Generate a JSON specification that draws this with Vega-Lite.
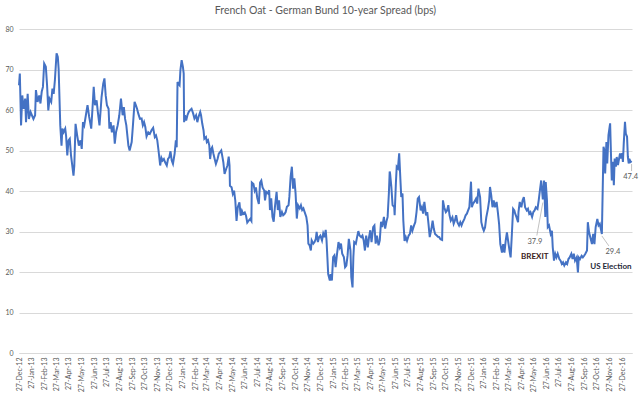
{
"$schema": "https://vega.github.io/schema/vega-lite/v6.json",
"width": 613,
"height": 324,
"autosize": {"type": "none"},
"padding": {"left": 19, "top": 29, "right": 8, "bottom": 40},
"background": "white",
"config": {"view": {"stroke": null}, "font": "Lato"},
"title": {"text": "French Oat - German Bund 10-year Spread (bps)", "fontSize": 10.5, "font": "Lato", "fontWeight": "normal", "color": "#595959", "anchor": "middle", "offset": 9},
"datasets": {
"spread": [
{"d":"2012-12-27","v":66.1},{"d":"2012-12-29","v":69},{"d":"2013-01-01","v":56.2},{"d":"2013-01-04","v":63.6},{"d":"2013-01-07","v":60.3},{"d":"2013-01-11","v":62.8},{"d":"2013-01-13","v":57},{"d":"2013-01-17","v":64},{"d":"2013-01-20","v":57.8},{"d":"2013-01-24","v":59.5},{"d":"2013-01-31","v":57.8},{"d":"2013-02-04","v":58.7},{"d":"2013-02-06","v":64.9},{"d":"2013-02-10","v":62},{"d":"2013-02-14","v":63.6},{"d":"2013-02-17","v":61.6},{"d":"2013-02-20","v":64.5},{"d":"2013-02-23","v":65.7},{"d":"2013-02-26","v":71.5},{"d":"2013-03-02","v":70.7},{"d":"2013-03-05","v":66.1},{"d":"2013-03-08","v":59.9},{"d":"2013-03-11","v":62.8},{"d":"2013-03-15","v":62},{"d":"2013-03-18","v":65.3},{"d":"2013-03-21","v":64},{"d":"2013-03-24","v":67.4},{"d":"2013-03-28","v":74},{"d":"2013-03-31","v":73.1},{"d":"2013-04-02","v":70.2},{"d":"2013-04-06","v":56.2},{"d":"2013-04-09","v":51.2},{"d":"2013-04-11","v":55.4},{"d":"2013-04-14","v":54.5},{"d":"2013-04-18","v":55.4},{"d":"2013-04-20","v":53.7},{"d":"2013-04-23","v":48.8},{"d":"2013-04-26","v":52.5},{"d":"2013-04-29","v":52.9},{"d":"2013-05-02","v":48.8},{"d":"2013-05-05","v":46.3},{"d":"2013-05-08","v":43.8},{"d":"2013-05-10","v":46.3},{"d":"2013-05-13","v":56.6},{"d":"2013-05-17","v":53.7},{"d":"2013-05-21","v":51.2},{"d":"2013-05-25","v":52.5},{"d":"2013-05-28","v":50.4},{"d":"2013-05-31","v":57},{"d":"2013-06-03","v":56.2},{"d":"2013-06-07","v":58.7},{"d":"2013-06-11","v":61.2},{"d":"2013-06-15","v":58.3},{"d":"2013-06-20","v":55.4},{"d":"2013-06-23","v":60.3},{"d":"2013-06-26","v":65.7},{"d":"2013-06-29","v":61.2},{"d":"2013-07-03","v":62.4},{"d":"2013-07-06","v":59.5},{"d":"2013-07-10","v":56.2},{"d":"2013-07-13","v":60.3},{"d":"2013-07-15","v":63.2},{"d":"2013-07-19","v":66.5},{"d":"2013-07-22","v":67.8},{"d":"2013-07-25","v":63.6},{"d":"2013-07-28","v":61.2},{"d":"2013-08-01","v":60.3},{"d":"2013-08-03","v":55.4},{"d":"2013-08-06","v":57},{"d":"2013-08-09","v":54.5},{"d":"2013-08-13","v":56.2},{"d":"2013-08-16","v":51.7},{"d":"2013-08-19","v":54.5},{"d":"2013-08-23","v":56.2},{"d":"2013-08-27","v":58.7},{"d":"2013-08-31","v":62.8},{"d":"2013-09-04","v":58.7},{"d":"2013-09-07","v":60.7},{"d":"2013-09-10","v":57.8},{"d":"2013-09-13","v":56.2},{"d":"2013-09-18","v":51.2},{"d":"2013-09-21","v":50},{"d":"2013-09-26","v":52.1},{"d":"2013-09-29","v":56.2},{"d":"2013-10-03","v":62},{"d":"2013-10-06","v":61.2},{"d":"2013-10-09","v":60.3},{"d":"2013-10-12","v":59.1},{"d":"2013-10-16","v":57.8},
{"d":"2013-10-20","v":57.9},{"d":"2013-10-23","v":56.2},{"d":"2013-10-26","v":57},{"d":"2013-10-29","v":55.8},{"d":"2013-11-01","v":53.5},{"d":"2013-11-05","v":54.5},{"d":"2013-11-09","v":54.1},{"d":"2013-11-13","v":55},{"d":"2013-11-17","v":55.6},{"d":"2013-11-21","v":53.3},{"d":"2013-11-24","v":53.7},{"d":"2013-11-27","v":52.5},{"d":"2013-11-30","v":50},{"d":"2013-12-04","v":46.3},{"d":"2013-12-07","v":48.2},{"d":"2013-12-10","v":47.5},{"d":"2013-12-13","v":47.9},{"d":"2013-12-16","v":47.1},{"d":"2013-12-20","v":46.3},{"d":"2013-12-23","v":47.9},{"d":"2013-12-26","v":48.3},{"d":"2013-12-29","v":49.8},{"d":"2014-01-01","v":47.5},{"d":"2014-01-04","v":46.7},{"d":"2014-01-08","v":49.2},{"d":"2014-01-11","v":52.5},{"d":"2014-01-13","v":50.8},{"d":"2014-01-15","v":66.9},{"d":"2014-01-17","v":66.5},{"d":"2014-01-20","v":66.1},{"d":"2014-01-22","v":69.8},{"d":"2014-01-25","v":72.3},{"d":"2014-01-28","v":70.7},{"d":"2014-01-30","v":69},{"d":"2014-01-31","v":57},{"d":"2014-02-02","v":58.7},{"d":"2014-02-05","v":57.4},{"d":"2014-02-08","v":58.7},{"d":"2014-02-11","v":59.5},{"d":"2014-02-14","v":59.9},{"d":"2014-02-18","v":60.3},{"d":"2014-02-22","v":59.1},{"d":"2014-02-25","v":57.9},{"d":"2014-03-01","v":58.7},{"d":"2014-03-04","v":57},{"d":"2014-03-07","v":58.3},{"d":"2014-03-11","v":59.5},{"d":"2014-03-13","v":58.7},{"d":"2014-03-16","v":56.6},{"d":"2014-03-19","v":55},{"d":"2014-03-21","v":52.9},{"d":"2014-03-25","v":53.3},{"d":"2014-03-27","v":52.1},{"d":"2014-03-30","v":52.5},{"d":"2014-04-02","v":51.2},{"d":"2014-04-04","v":47.9},{"d":"2014-04-07","v":50.4},{"d":"2014-04-09","v":50.8},{"d":"2014-04-12","v":49.2},{"d":"2014-04-15","v":47.9},{"d":"2014-04-18","v":46.7},{"d":"2014-04-22","v":47.9},{"d":"2014-04-25","v":49.2},{"d":"2014-04-28","v":49.6},{"d":"2014-05-01","v":50},{"d":"2014-05-04","v":48.3},{"d":"2014-05-06","v":47.1},{"d":"2014-05-09","v":44.2},{"d":"2014-05-13","v":45.5},{"d":"2014-05-16","v":46.3},{"d":"2014-05-19","v":48.5},{"d":"2014-05-21","v":46.3},{"d":"2014-05-22","v":41.3},{"d":"2014-05-26","v":40.9},{"d":"2014-05-29","v":39.3},{"d":"2014-06-01","v":40.1},{"d":"2014-06-04","v":37.6},{"d":"2014-06-07","v":32.6},{"d":"2014-06-10","v":36},{"d":"2014-06-14","v":37.2},{"d":"2014-06-17","v":33.9},{"d":"2014-06-20","v":35.1},{"d":"2014-06-23","v":34.3},{"d":"2014-06-27","v":34.7},{"d":"2014-06-30","v":33.9},{"d":"2014-07-03","v":32.2},{"d":"2014-07-06","v":32.6},{"d":"2014-07-10","v":33.1},{"d":"2014-07-13","v":32.6},{"d":"2014-07-14","v":42.1},{"d":"2014-07-18","v":41.7},{"d":"2014-07-21","v":40.1},{"d":"2014-07-24","v":40.9},{"d":"2014-07-27","v":38.4},{"d":"2014-07-31","v":36.8},{"d":"2014-08-03","v":42.1},{"d":"2014-08-06","v":42.6},{"d":"2014-08-09","v":40.9},{"d":"2014-08-13","v":40.1},
{"d":"2014-08-15","v":37.7},{"d":"2014-08-18","v":39.8},{"d":"2014-08-22","v":39.4},{"d":"2014-08-25","v":40.2},{"d":"2014-08-27","v":35.3},{"d":"2014-08-30","v":38.2},{"d":"2014-09-02","v":33.6},{"d":"2014-09-05","v":32.4},{"d":"2014-09-08","v":36.1},{"d":"2014-09-12","v":39.8},{"d":"2014-09-15","v":35.3},{"d":"2014-09-18","v":37.7},{"d":"2014-09-21","v":33.6},{"d":"2014-09-25","v":34.8},{"d":"2014-09-28","v":34},{"d":"2014-10-01","v":34.3},{"d":"2014-10-04","v":34.8},{"d":"2014-10-07","v":36.1},{"d":"2014-10-11","v":36.5},{"d":"2014-10-13","v":38.6},{"d":"2014-10-16","v":43.5},{"d":"2014-10-19","v":46},{"d":"2014-10-22","v":40.6},{"d":"2014-10-25","v":43.1},{"d":"2014-10-28","v":39.4},{"d":"2014-10-31","v":33.2},{"d":"2014-11-03","v":36.5},{"d":"2014-11-07","v":35.7},{"d":"2014-11-10","v":36.5},{"d":"2014-11-13","v":35.3},{"d":"2014-11-16","v":35.7},{"d":"2014-11-19","v":34.8},{"d":"2014-11-23","v":33.6},{"d":"2014-11-26","v":31.5},{"d":"2014-11-28","v":27},{"d":"2014-12-01","v":26.6},{"d":"2014-12-04","v":25.3},{"d":"2014-12-06","v":27.8},{"d":"2014-12-10","v":27},{"d":"2014-12-13","v":27.4},{"d":"2014-12-16","v":28.2},{"d":"2014-12-18","v":29.9},{"d":"2014-12-21","v":27.4},{"d":"2014-12-24","v":28.6},{"d":"2014-12-27","v":29},{"d":"2014-12-31","v":27.8},{"d":"2015-01-03","v":29.5},{"d":"2015-01-06","v":28.6},{"d":"2015-01-09","v":30.4},{"d":"2015-01-11","v":27.8},{"d":"2015-01-13","v":23.7},{"d":"2015-01-15","v":19.5},{"d":"2015-01-19","v":17.9},{"d":"2015-01-21","v":19.5},{"d":"2015-01-24","v":17.9},{"d":"2015-01-27","v":23.7},{"d":"2015-01-30","v":24.1},{"d":"2015-02-02","v":21.2},{"d":"2015-02-05","v":24.1},{"d":"2015-02-09","v":27.4},{"d":"2015-02-12","v":26.1},{"d":"2015-02-15","v":27},{"d":"2015-02-18","v":24.5},{"d":"2015-02-22","v":23.7},{"d":"2015-02-25","v":21.2},{"d":"2015-02-28","v":21.6},{"d":"2015-03-03","v":24.1},{"d":"2015-03-06","v":28.2},{"d":"2015-03-10","v":25.3},{"d":"2015-03-12","v":18.7},{"d":"2015-03-15","v":16.2},{"d":"2015-03-17","v":23.7},{"d":"2015-03-19","v":27.4},{"d":"2015-03-23","v":27},{"d":"2015-03-26","v":28.6},{"d":"2015-03-29","v":30.1},{"d":"2015-04-01","v":29},{"d":"2015-04-05","v":28.6},{"d":"2015-04-08","v":29},{"d":"2015-04-11","v":27.8},{"d":"2015-04-14","v":25.3},{"d":"2015-04-17","v":29},{"d":"2015-04-21","v":26.1},{"d":"2015-04-24","v":28.6},{"d":"2015-04-27","v":30.3},{"d":"2015-04-30","v":27.4},{"d":"2015-05-04","v":31.1},{"d":"2015-05-07","v":31.5},{"d":"2015-05-10","v":27},{"d":"2015-05-13","v":29},{"d":"2015-05-17","v":26.6},{"d":"2015-05-20","v":27.8},{"d":"2015-05-23","v":32.4},{"d":"2015-05-26","v":31.1},{"d":"2015-05-30","v":33.6},{"d":"2015-06-02","v":30.7},{"d":"2015-06-05","v":32.4},{"d":"2015-06-08","v":33.6},{"d":"2015-06-11","v":39.4},{"d":"2015-06-13","v":44.8},
{"d":"2015-06-14","v":44.3},{"d":"2015-06-17","v":41},{"d":"2015-06-20","v":36.5},{"d":"2015-06-24","v":36},{"d":"2015-06-25","v":34},{"d":"2015-06-28","v":41.9},{"d":"2015-06-30","v":46},{"d":"2015-07-03","v":45.6},{"d":"2015-07-06","v":49.3},{"d":"2015-07-09","v":42.7},{"d":"2015-07-11","v":38.5},{"d":"2015-07-14","v":39.4},{"d":"2015-07-16","v":32.7},{"d":"2015-07-19","v":27.7},{"d":"2015-07-22","v":28.6},{"d":"2015-07-25","v":27.7},{"d":"2015-07-29","v":29},{"d":"2015-08-01","v":29.4},{"d":"2015-08-04","v":31.5},{"d":"2015-08-07","v":30.2},{"d":"2015-08-11","v":31.5},{"d":"2015-08-14","v":32.3},{"d":"2015-08-17","v":34.8},{"d":"2015-08-20","v":38.1},{"d":"2015-08-23","v":38.5},{"d":"2015-08-27","v":35.2},{"d":"2015-08-30","v":36},{"d":"2015-09-02","v":34.4},{"d":"2015-09-05","v":37.3},{"d":"2015-09-09","v":34},{"d":"2015-09-12","v":34.8},{"d":"2015-09-15","v":31.9},{"d":"2015-09-18","v":28.6},{"d":"2015-09-22","v":30.6},{"d":"2015-09-25","v":32.7},{"d":"2015-09-28","v":30.6},{"d":"2015-10-01","v":29.4},{"d":"2015-10-05","v":29},{"d":"2015-10-08","v":28.7},{"d":"2015-10-11","v":28.6},{"d":"2015-10-14","v":28.1},{"d":"2015-10-18","v":27.9},{"d":"2015-10-20","v":37.7},{"d":"2015-10-23","v":36},{"d":"2015-10-27","v":34.8},{"d":"2015-10-30","v":35.2},{"d":"2015-11-02","v":36.5},{"d":"2015-11-05","v":34},{"d":"2015-11-08","v":32.7},{"d":"2015-11-12","v":33.5},{"d":"2015-11-15","v":31.9},{"d":"2015-11-18","v":32.7},{"d":"2015-11-21","v":34},{"d":"2015-11-24","v":32.3},{"d":"2015-11-28","v":31.5},{"d":"2015-12-01","v":32.3},{"d":"2015-12-04","v":31.5},{"d":"2015-12-07","v":32.3},{"d":"2015-12-11","v":33.1},{"d":"2015-12-14","v":34},{"d":"2015-12-17","v":34.4},{"d":"2015-12-20","v":35.2},{"d":"2015-12-23","v":36},{"d":"2015-12-27","v":42.3},{"d":"2015-12-29","v":36},{"d":"2016-01-01","v":36.9},{"d":"2016-01-04","v":37.3},{"d":"2016-01-08","v":38.1},{"d":"2016-01-11","v":36.9},{"d":"2016-01-14","v":40.6},{"d":"2016-01-18","v":38.5},{"d":"2016-01-21","v":32.3},{"d":"2016-01-24","v":31},{"d":"2016-01-27","v":30.2},{"d":"2016-01-30","v":31},{"d":"2016-02-02","v":33.5},{"d":"2016-02-06","v":35.6},{"d":"2016-02-09","v":37.7},{"d":"2016-02-11","v":41},{"d":"2016-02-14","v":38.9},{"d":"2016-02-17","v":36},{"d":"2016-02-20","v":37.7},{"d":"2016-02-23","v":36},{"d":"2016-02-27","v":37.3},{"d":"2016-03-01","v":34.8},{"d":"2016-03-04","v":31.9},{"d":"2016-03-07","v":26.9},{"d":"2016-03-11","v":24.8},{"d":"2016-03-14","v":26.9},{"d":"2016-03-17","v":24.8},{"d":"2016-03-20","v":27.7},{"d":"2016-03-23","v":29.8},{"d":"2016-03-27","v":26.9},{"d":"2016-03-30","v":24.8},{"d":"2016-04-01","v":23.6},{"d":"2016-04-04","v":29.4},{"d":"2016-04-07","v":35.6},{"d":"2016-04-10","v":35.2},
{"d":"2016-04-12","v":34.4},{"d":"2016-04-15","v":33.6},{"d":"2016-04-19","v":32.3},{"d":"2016-04-20","v":34.8},{"d":"2016-04-23","v":37.3},{"d":"2016-04-27","v":36},{"d":"2016-04-30","v":37.7},{"d":"2016-05-03","v":38.5},{"d":"2016-05-06","v":36},{"d":"2016-05-10","v":35.2},{"d":"2016-05-13","v":35.6},{"d":"2016-05-16","v":34.4},{"d":"2016-05-19","v":34.8},{"d":"2016-05-23","v":33.6},{"d":"2016-05-26","v":34.8},{"d":"2016-05-29","v":35.2},{"d":"2016-06-01","v":36},{"d":"2016-06-05","v":35.6},{"d":"2016-06-08","v":37.7},{"d":"2016-06-11","v":40.2},{"d":"2016-06-14","v":42.6},{"d":"2016-06-18","v":37.9},{"d":"2016-06-21","v":42.6},{"d":"2016-06-24","v":33.6},{"d":"2016-06-25","v":42.2},{"d":"2016-06-28","v":37.7},{"d":"2016-06-30","v":31.1},{"d":"2016-07-03","v":31.5},{"d":"2016-07-07","v":29.4},{"d":"2016-07-10","v":30.2},{"d":"2016-07-12","v":26.1},{"d":"2016-07-15","v":22.8},{"d":"2016-07-18","v":24.5},{"d":"2016-07-21","v":23.6},{"d":"2016-07-24","v":24.5},{"d":"2016-07-28","v":23.2},{"d":"2016-07-31","v":22.8},{"d":"2016-08-03","v":22},{"d":"2016-08-06","v":22.4},{"d":"2016-08-09","v":21.6},{"d":"2016-08-13","v":22.4},{"d":"2016-08-16","v":22},{"d":"2016-08-19","v":23.2},{"d":"2016-08-22","v":23.6},{"d":"2016-08-26","v":24.5},{"d":"2016-08-29","v":23.2},{"d":"2016-09-01","v":24.5},{"d":"2016-09-04","v":22.8},{"d":"2016-09-08","v":23.6},{"d":"2016-09-11","v":19.9},{"d":"2016-09-13","v":23.6},{"d":"2016-09-16","v":23.2},{"d":"2016-09-20","v":24},{"d":"2016-09-23","v":23.6},{"d":"2016-09-26","v":24},{"d":"2016-09-29","v":24.5},{"d":"2016-10-03","v":25.3},{"d":"2016-10-05","v":32.3},{"d":"2016-10-08","v":29.8},{"d":"2016-10-11","v":28.6},{"d":"2016-10-15","v":26.9},{"d":"2016-10-18","v":29.4},{"d":"2016-10-21","v":26.9},{"d":"2016-10-24","v":31.1},{"d":"2016-10-28","v":33.1},{"d":"2016-10-31","v":31.5},{"d":"2016-11-03","v":31.9},{"d":"2016-11-08","v":29.4},{"d":"2016-11-10","v":40.2},{"d":"2016-11-12","v":50.9},{"d":"2016-11-14","v":50.1},{"d":"2016-11-16","v":44.3},{"d":"2016-11-19","v":52.1},{"d":"2016-11-21","v":46.8},{"d":"2016-11-24","v":53.8},{"d":"2016-11-28","v":56.7},{"d":"2016-11-30","v":49.3},{"d":"2016-12-02","v":42.6},{"d":"2016-12-05","v":47.2},{"d":"2016-12-07","v":41.4},{"d":"2016-12-09","v":48},{"d":"2016-12-12","v":46},{"d":"2016-12-14","v":48.4},{"d":"2016-12-17","v":46.4},{"d":"2016-12-19","v":47.6},{"d":"2016-12-22","v":49.3},{"d":"2016-12-24","v":48},{"d":"2016-12-27","v":49.3},{"d":"2016-12-29","v":47.2},{"d":"2016-12-31","v":51.7},{"d":"2017-01-03","v":57.1},{"d":"2017-01-05","v":54.2},{"d":"2017-01-08","v":53.4},{"d":"2017-01-10","v":48.4},{"d":"2017-01-12","v":46.8},{"d":"2017-01-15","v":47.6},{"d":"2017-01-17","v":47.2},{"d":"2017-01-19","v":47.4}
]
},
"encoding": {
"x": {"field": "d", "type": "temporal",
 "scale": {"type": "utc", "domain": [{"year":2012,"month":12,"date":27,"utc":true},{"year":2017,"month":1,"date":20,"utc":true}]},
 "axis": {"title": null, "format": "%d-%b-%y", "labelAngle": 270, "labelFontSize": 7, "labelFont": "Lato", "labelColor": "#595959", "labelPadding": 4, "ticks": false, "grid": false, "domain": true, "domainColor": "#d9d9d9", "labelOverlap": false, "labelFlush": false,
 "values": [
 {"year":2012,"month":12,"date":27,"utc":true},
 {"year":2013,"month":1,"date":27,"utc":true},{"year":2013,"month":2,"date":27,"utc":true},{"year":2013,"month":3,"date":27,"utc":true},{"year":2013,"month":4,"date":27,"utc":true},{"year":2013,"month":5,"date":27,"utc":true},{"year":2013,"month":6,"date":27,"utc":true},{"year":2013,"month":7,"date":27,"utc":true},{"year":2013,"month":8,"date":27,"utc":true},{"year":2013,"month":9,"date":27,"utc":true},{"year":2013,"month":10,"date":27,"utc":true},{"year":2013,"month":11,"date":27,"utc":true},{"year":2013,"month":12,"date":27,"utc":true},
 {"year":2014,"month":1,"date":27,"utc":true},{"year":2014,"month":2,"date":27,"utc":true},{"year":2014,"month":3,"date":27,"utc":true},{"year":2014,"month":4,"date":27,"utc":true},{"year":2014,"month":5,"date":27,"utc":true},{"year":2014,"month":6,"date":27,"utc":true},{"year":2014,"month":7,"date":27,"utc":true},{"year":2014,"month":8,"date":27,"utc":true},{"year":2014,"month":9,"date":27,"utc":true},{"year":2014,"month":10,"date":27,"utc":true},{"year":2014,"month":11,"date":27,"utc":true},{"year":2014,"month":12,"date":27,"utc":true},
 {"year":2015,"month":1,"date":27,"utc":true},{"year":2015,"month":2,"date":27,"utc":true},{"year":2015,"month":3,"date":27,"utc":true},{"year":2015,"month":4,"date":27,"utc":true},{"year":2015,"month":5,"date":27,"utc":true},{"year":2015,"month":6,"date":27,"utc":true},{"year":2015,"month":7,"date":27,"utc":true},{"year":2015,"month":8,"date":27,"utc":true},{"year":2015,"month":9,"date":27,"utc":true},{"year":2015,"month":10,"date":27,"utc":true},{"year":2015,"month":11,"date":27,"utc":true},{"year":2015,"month":12,"date":27,"utc":true},
 {"year":2016,"month":1,"date":27,"utc":true},{"year":2016,"month":2,"date":27,"utc":true},{"year":2016,"month":3,"date":27,"utc":true},{"year":2016,"month":4,"date":27,"utc":true},{"year":2016,"month":5,"date":27,"utc":true},{"year":2016,"month":6,"date":27,"utc":true},{"year":2016,"month":7,"date":27,"utc":true},{"year":2016,"month":8,"date":27,"utc":true},{"year":2016,"month":9,"date":27,"utc":true},{"year":2016,"month":10,"date":27,"utc":true},{"year":2016,"month":11,"date":27,"utc":true},{"year":2016,"month":12,"date":27,"utc":true}
 ]}},
"y": {"field": "v", "type": "quantitative",
 "scale": {"domain": [0, 80], "nice": false},
 "axis": {"title": null, "values": [0,10,20,30,40,50,60,70,80], "grid": true, "gridColor": "#d9d9d9", "gridWidth": 1, "domain": false, "ticks": false, "labelFontSize": 7, "labelFont": "Lato", "labelColor": "#595959", "labelPadding": 6}}
},
"layer": [
{"data": {"name": "spread"}, "mark": {"type": "line", "color": "#4472C4", "strokeWidth": 2, "interpolate": "linear"}},
{"data": {"values": [{"d": "2016-06-18", "v": 37.9}]},
 "mark": {"type": "rule", "color": "#a6a6a6", "strokeWidth": 0.7, "yOffset": 3, "x2Offset": -6, "y2Offset": 36},
 "encoding": {"x2": {"field": "d"}, "y2": {"field": "v"}}},
{"data": {"values": [{"d": "2016-06-18", "v": 37.9}]},
 "mark": {"type": "text", "dx": -8, "dy": 42, "fontSize": 7.5, "font": "Lato", "color": "#595959"},
 "encoding": {"text": {"field": "v", "type": "quantitative", "format": ".1f"}}},
{"data": {"values": [{"d": "2016-06-18", "v": 37.9}]},
 "mark": {"type": "text", "text": "BREXIT", "dx": -8, "dy": 57, "fontSize": 8, "fontWeight": "bold", "font": "Lato", "color": "#3a2020"}},
{"data": {"values": [{"d": "2016-11-08", "v": 29.4}]},
 "mark": {"type": "rule", "color": "#a6a6a6", "strokeWidth": 0.7, "yOffset": 2, "x2Offset": 7, "y2Offset": 12},
 "encoding": {"x2": {"field": "d"}, "y2": {"field": "v"}}},
{"data": {"values": [{"d": "2016-11-08", "v": 29.4}]},
 "mark": {"type": "text", "dx": 11, "dy": 18, "fontSize": 7.5, "font": "Lato", "color": "#595959"},
 "encoding": {"text": {"field": "v", "type": "quantitative", "format": ".1f"}}},
{"data": {"values": [{"d": "2016-11-08", "v": 29.4}]},
 "mark": {"type": "text", "text": "US Election", "dx": 9, "dy": 33, "fontSize": 8, "fontWeight": "bold", "font": "Lato", "color": "#1f2a3a"}},
{"data": {"values": [{"d": "2017-01-19", "v": 47.4}]},
 "mark": {"type": "rule", "color": "#a6a6a6", "strokeWidth": 0.7, "yOffset": 3, "y2Offset": 10},
 "encoding": {"x2": {"field": "d"}, "y2": {"field": "v"}}},
{"data": {"values": [{"d": "2017-01-19", "v": 47.4}]},
 "mark": {"type": "text", "dx": -1, "dy": 16, "fontSize": 7.5, "font": "Lato", "color": "#595959"},
 "encoding": {"text": {"field": "v", "type": "quantitative", "format": ".1f"}}}
]
}
